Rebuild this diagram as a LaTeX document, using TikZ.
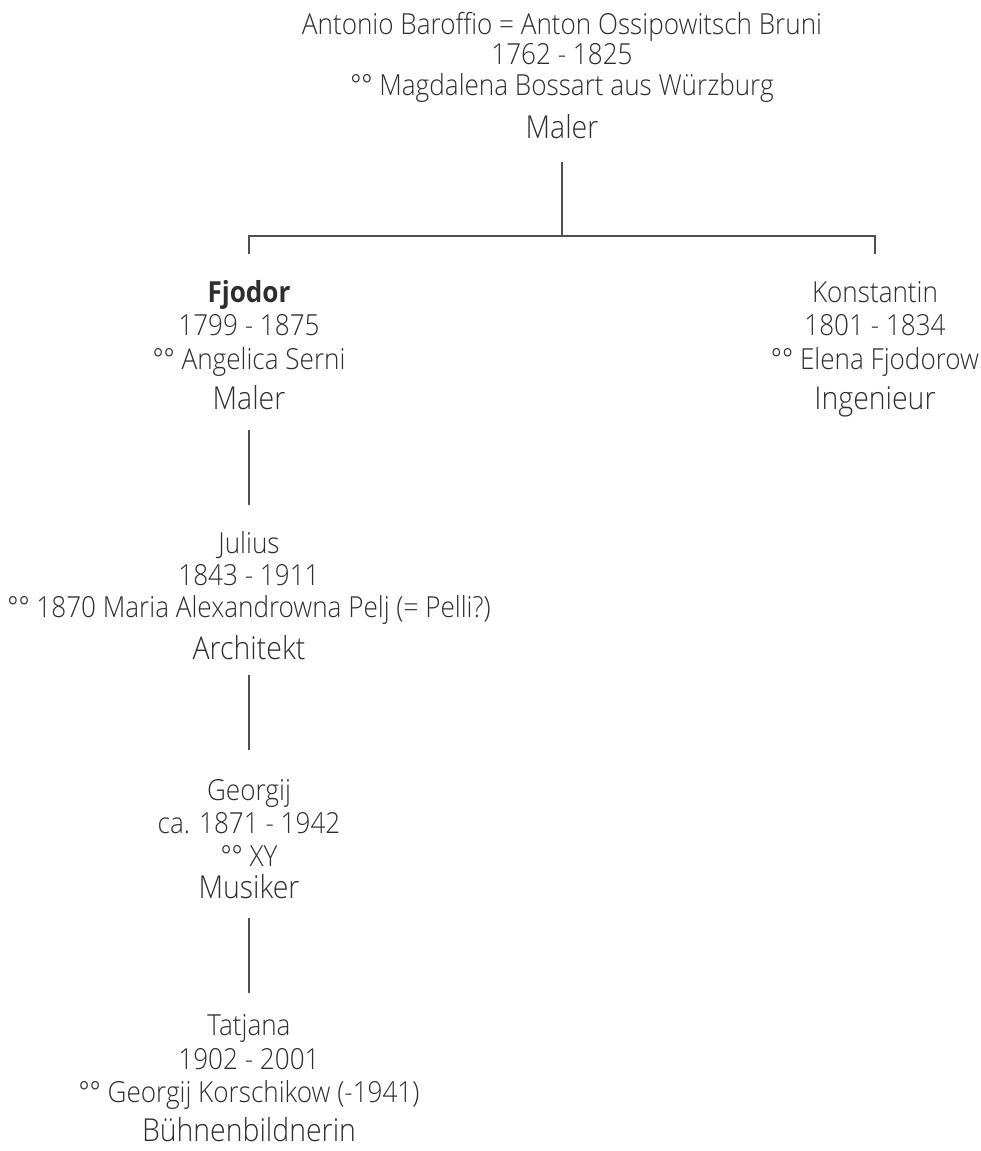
\documentclass[tikz,border=0pt]{standalone}
\usepackage{fontspec}
\setmainfont{Open Sans Light}[FakeStretch=0.9, BoldFont={Open Sans Bold}, BoldFeatures={FakeStretch=0.9}]
\definecolor{textc}{HTML}{2E2E2E}
\definecolor{linec}{HTML}{505050}
\tikzset{
  txt/.style={anchor=base, text=textc, inner sep=0pt, font=\fontsize{29}{33}\selectfont},
  jobtxt/.style={txt, font=\fontsize{31.6}{35}\selectfont},
  conn/.style={draw=linec, line width=1.3pt}
}
\begin{document}
\begin{tikzpicture}[x=1pt,y=-1pt]
\useasboundingbox (0,0) rectangle (981,1151);
% top
\node[txt] (top-n) at (562,34) {Antonio Baroffio = Anton Ossipowitsch Bruni};
\node[txt] (top-d) at (562,64) {1762 - 1825};
\node[txt] (top-s) at (562,95) {°° Magdalena Bossart aus Würzburg};
\node[jobtxt] (top-j) at (562,138) {Maler};
% Fjodor
\node[txt,font=\fontsize{29}{33}\selectfont\bfseries] (fj-n) at (249,302) {Fjodor};
\node[txt] (fj-d) at (249,335) {1799 - 1875};
\node[txt] (fj-s) at (249,369) {°° Angelica Serni};
\node[jobtxt] (fj-j) at (249,409) {Maler};
% Konstantin
\node[txt] (ko-n) at (875,302) {Konstantin};
\node[txt] (ko-d) at (875,335) {1801 - 1834};
\node[txt] (ko-s) at (875,369) {°° Elena Fjodorow};
\node[jobtxt] (ko-j) at (875,409) {Ingenieur};
% Julius
\node[txt] (ju-n) at (249,553) {Julius};
\node[txt] (ju-d) at (249,585) {1843 - 1911};
\node[txt] (ju-s) at (249,617) {°° 1870 Maria Alexandrowna Pelj (= Pelli?)};
\node[jobtxt] (ju-j) at (249,659) {Architekt};
% Georgij
\node[txt] (ge-n) at (249,800) {Georgij};
\node[txt] (ge-d) at (249,833) {ca. 1871 - 1942};
\node[txt] (ge-s) at (249,866) {°° XY};
\node[jobtxt] (ge-j) at (249,898) {Musiker};
% Tatjana
\node[txt] (ta-n) at (249,1035) {Tatjana};
\node[txt] (ta-d) at (249,1069) {1902 - 2001};
\node[txt] (ta-s) at (249,1102) {°° Georgij Korschikow (-1941)};
\node[jobtxt] (ta-j) at (249,1141) {Bühnenbildnerin};
% connectors
\coordinate (jn) at (562,236);
\coordinate (lv) at (0,254);
\draw[conn] (top-j.base |- 0,162) -- (jn);
\draw[conn] (fj-n.base |- lv) -- (fj-n.base |- jn) -- (ko-n.base |- jn) -- (ko-n.base |- lv);
\draw[conn] (fj-j.base |- 0,430) -- (ju-n.base |- 0,505);
\draw[conn] (ju-j.base |- 0,675) -- (ge-n.base |- 0,750);
\draw[conn] (ge-j.base |- 0,918) -- (ta-n.base |- 0,993);
\end{tikzpicture}
\end{document}
